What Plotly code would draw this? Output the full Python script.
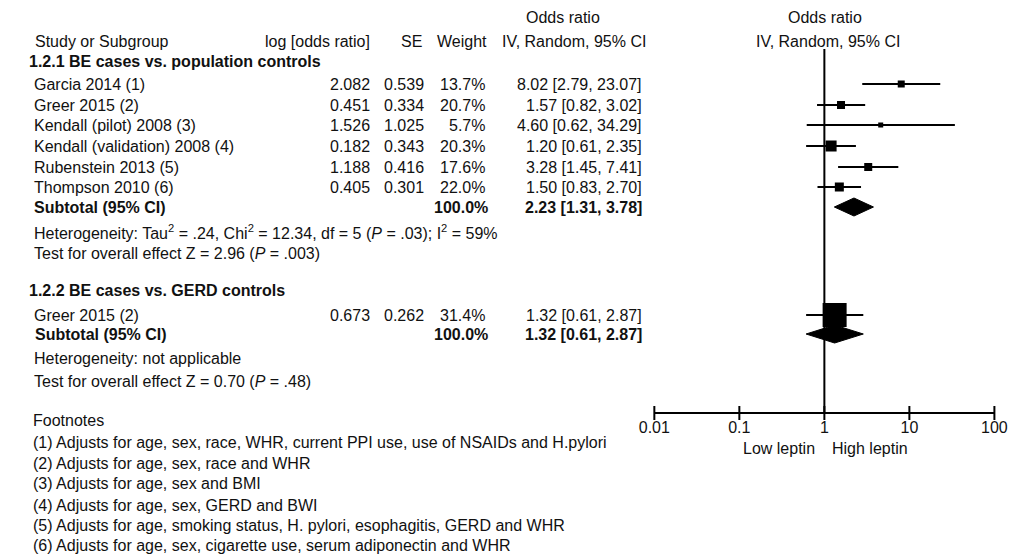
import plotly.graph_objects as go

W, H = 1021, 557

# ---------------- data ----------------
studies_a = ["Garcia 2014 (1)", "Greer 2015 (2)", "Kendall (pilot) 2008 (3)",
             "Kendall (validation) 2008 (4)", "Rubenstein 2013 (5)", "Thompson 2010 (6)"]
log_or_a = [2.082, 0.451, 1.526, 0.182, 1.188, 0.405]
se_a = [0.539, 0.334, 1.025, 0.343, 0.416, 0.301]
weight_a = [13.7, 20.7, 5.7, 20.3, 17.6, 22.0]
or_a = [8.02, 1.57, 4.60, 1.20, 3.28, 1.50]
lo_a = [2.79, 0.82, 0.62, 0.61, 1.45, 0.83]
hi_a = [23.07, 3.02, 34.29, 2.35, 7.41, 2.70]
subtotal_a = [2.23, 1.31, 3.78]
subtotal_weight_a = 100.0

studies_b = ["Greer 2015 (2)"]
log_or_b = [0.673]
se_b = [0.262]
weight_b = [31.4]
or_b = [1.32]
lo_b = [0.61]
hi_b = [2.87]
subtotal_b = [1.32, 0.61, 2.87]
subtotal_weight_b = 100.0

group_a = "1.2.1 BE cases vs. population controls"
group_b = "1.2.2 BE cases vs. GERD controls"
het_a = "Heterogeneity: Tau<sup>2</sup> = .24, Chi<sup>2</sup> = 12.34, df = 5 (<i>P</i> = .03); I<sup>2</sup> = 59%"
test_a = "Test for overall effect Z = 2.96 (<i>P</i> = .003)"
het_b = "Heterogeneity: not applicable"
test_b = "Test for overall effect Z = 0.70 (<i>P</i> = .48)"

footnotes = [
    "Footnotes",
    "(1) Adjusts for age, sex, race, WHR, current PPI use, use of NSAIDs and H.pylori",
    "(2) Adjusts for age, sex, race and WHR",
    "(3) Adjusts for age, sex and BMI",
    "(4) Adjusts for age, sex, GERD and BWI",
    "(5) Adjusts for age, smoking status, H. pylori, esophagitis, GERD and WHR",
    "(6) Adjusts for age, sex, cigarette use, serum adiponectin and WHR",
]

tick_vals = [0.01, 0.1, 1, 10, 100]
tick_text = ["0.01", "0.1", "1", "10", "100"]
favours = ["Low leptin", "High leptin"]

# ---------------- layout / style ----------------
FONT = "Liberation Sans, Arial, sans-serif"
FS = 16
rows_a = [84, 105, 125, 146, 167, 187]
sub_a_y, het_a_y, test_a_y = 207, 232, 253
head_a_y, head_b_y = 61, 290
rows_b = [315]
sub_b_y, het_b_y, test_b_y = 334, 358, 381
foot_y = [420, 442, 463, 483, 505, 525, 545]
axis_y = 413
sizes_a = [7, 8, 5, 11, 8, 9]
sizes_b = [24]
diamond_half = 9

annotations = []


def txt(x, y, s, anchor="left", bold=False, size=FS):
    annotations.append(dict(
        x=x / W, xref="paper", y=y, yref="y", text=("<b>%s</b>" % s) if bold else s,
        xanchor=anchor, yanchor="middle", showarrow=False,
        font=dict(family=FONT, size=size, color="#111")))


def ci_text(o, l, h):
    return "%.2f [%.2f, %.2f]" % (o, l, h)


# headers
txt(563, 17, "Odds ratio", "center")
txt(833, 17, "Odds ratio", "center")
txt(17, 41, "Study or Subgroup")
txt(366, 41, "log [odds ratio]", "right")
txt(407, 41, "SE", "center")
txt(487, 41, "Weight", "right")
txt(650, 41, "IV, Random, 95% CI", "right")
txt(836, 41, "IV, Random, 95% CI", "center")

# group A
txt(11, head_a_y, group_a, bold=True)
for i, name in enumerate(studies_a):
    y = rows_a[i]
    txt(16, y, name)
    txt(366, y, "%.3f" % log_or_a[i], "right")
    txt(422, y, "%.3f" % se_a[i], "right")
    txt(485, y, "%.1f%%" % weight_a[i], "right")
    txt(646, y, ci_text(or_a[i], lo_a[i], hi_a[i]), "right")
txt(16, sub_a_y, "Subtotal (95% CI)", bold=True)
txt(488, sub_a_y, "%.1f%%" % subtotal_weight_a, "right", bold=True)
txt(646, sub_a_y, ci_text(*subtotal_a), "right", bold=True)
txt(16, het_a_y, het_a)
txt(16, test_a_y, test_a)

# group B
txt(11, head_b_y, group_b, bold=True)
for i, name in enumerate(studies_b):
    y = rows_b[i]
    txt(16, y, name)
    txt(366, y, "%.3f" % log_or_b[i], "right")
    txt(422, y, "%.3f" % se_b[i], "right")
    txt(485, y, "%.1f%%" % weight_b[i], "right")
    txt(646, y, ci_text(or_b[i], lo_b[i], hi_b[i]), "right")
txt(18, sub_b_y, "Subtotal (95% CI)", bold=True)
txt(488, sub_b_y, "%.1f%%" % subtotal_weight_b, "right", bold=True)
txt(646, sub_b_y, ci_text(*subtotal_b), "right", bold=True)
txt(16, het_b_y, het_b)
txt(16, test_b_y, test_b)

# footnotes
for y, s in zip(foot_y, footnotes):
    txt(15, y, s)

# favours labels
txt(824, 448, favours[0], "right")
txt(838, 448, favours[1], "left")

fig = go.Figure()

# CI lines
cx, cy = [], []
for l, h, y in zip(lo_a + lo_b, hi_a + hi_b, rows_a + rows_b):
    cx += [l, h, None]
    cy += [y, y, None]
fig.add_trace(go.Scatter(x=cx, y=cy, mode="lines", line=dict(color="black", width=2),
                         hoverinfo="skip"))

# squares
fig.add_trace(go.Scatter(x=or_a + or_b, y=rows_a + rows_b, mode="markers",
                         marker=dict(symbol="square", size=sizes_a + sizes_b, color="black",
                                     opacity=1, line=dict(width=0)), hoverinfo="skip"))

# diamonds
for (est, l, h), y in [(subtotal_a, sub_a_y), (subtotal_b, sub_b_y)]:
    fig.add_trace(go.Scatter(x=[l, est, h, est, l],
                             y=[y, y - diamond_half, y, y + diamond_half, y],
                             mode="lines", fill="toself", fillcolor="black",
                             line=dict(color="black", width=1), hoverinfo="skip"))

# crossing tick marks on the axis line
fig.add_trace(go.Scatter(x=tick_vals, y=[axis_y] * len(tick_vals), mode="markers",
                         marker=dict(symbol="line-ns", size=10, opacity=1,
                                     line=dict(width=2, color="black")),
                         hoverinfo="skip", cliponaxis=False))

# null line
fig.add_shape(type="line", xref="x", yref="y", x0=1, x1=1, y0=49, y1=axis_y,
              line=dict(color="black", width=2))

fig.update_layout(
    width=W, height=H, margin=dict(l=0, r=0, t=0, b=0),
    paper_bgcolor="white", plot_bgcolor="white", showlegend=False,
    annotations=annotations, hovermode=False,
    xaxis=dict(type="log", range=[-2, 2], domain=[657 / W, 1007 / W], anchor="free",
               position=1 - axis_y / H, showline=True, linecolor="black", linewidth=2,
               ticks="", tickvals=tick_vals, ticktext=tick_text, showgrid=False,
               zeroline=False, tickfont=dict(family=FONT, size=FS, color="#111")),
    yaxis=dict(range=[H, 0], domain=[0, 1], visible=False, showgrid=False, zeroline=False),
)

fig.write_html("out.html", config={"displayModeBar": False},
               post_script="document.body.style.margin='0';document.body.style.overflow='hidden';")
